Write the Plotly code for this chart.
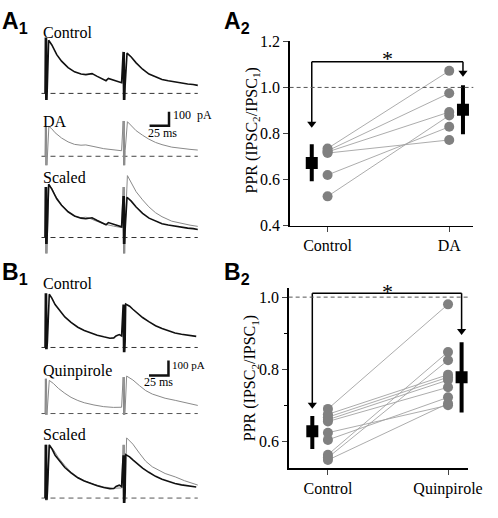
import numpy as np
import plotly.graph_objects as go

W, H = 498, 518

# ---------------- data ----------------
# Panel A1 / B1 current traces: time (ms after 1st stimulus), current (pA)
a_ctrl_t = [-0.5, 0, 0.6, 1.4, 2.0, 2.6, 4.2, 8.3, 14.6, 20.8, 29.2, 37.5, 45.8, 52, 56, 60, 66.7, 75, 78, 81, 85, 92, 98,
            100, 100.6, 101.4, 102, 102.6, 105, 110.4, 116.7, 125, 133.3, 141.7, 150, 158, 166.7, 175, 183, 190, 196]
a_ctrl_i = [0, 405, -47, 405, -47, 40, 385, 350, 280, 233, 186, 156, 140, 136, 140, 143, 123, 100, 92, 108, 100, 88, 77,
            300, -47, 300, -47, 60, 291, 263, 221, 175, 140, 117, 100, 91, 82, 77, 68, 64, 58]

a_da_t = [-0.5, 0, 0.6, 1.4, 2.0, 2.6, 4.5, 8, 12.5, 20.8, 29.2, 37.5, 45.8, 52, 56, 62.5, 75, 87.5, 98,
          100, 100.6, 101.4, 102, 102.6, 105.5, 110, 116.7, 125, 133, 141.7, 150, 162.5, 175, 186, 196]
a_da_i = [0, 215, -65, 215, -65, 30, 215, 200, 170, 132, 104, 86, 80, 82, 79, 70, 55, 46, 40,
          255, -65, 255, -65, 40, 250, 222, 185, 152, 124, 100, 84, 66, 56, 50, 45]

b_ctrl_t = [-0.5, 0, 0.6, 1.4, 2.0, 2.6, 5, 8.3, 12.5, 18.75, 25, 33, 41.7, 50, 58.3, 66.7, 75, 83, 88, 90.8, 95, 98,
            100, 100.6, 101.4, 102, 102.6, 103.3, 108.3, 112.5, 118.75, 125, 133, 141.7, 150, 158, 166.7, 175, 183, 194]
b_ctrl_i = [0, 361, -11, 361, -11, 40, 355, 329, 286, 243, 204, 168, 135, 114, 97, 82, 71, 62, 64, 77, 86, 77,
            286, -32, 286, -32, 40, 290, 275, 255, 228, 200, 172, 145, 126, 110, 97, 88, 80, 74]

b_qui_t = [-0.5, 0, 0.6, 1.4, 2.0, 2.6, 5, 10.4, 16.7, 25, 33, 41.7, 50, 62.5, 75, 87.5, 98,
           100, 100.6, 101.4, 102, 102.6, 104.5, 112.5, 121, 129, 137.5, 146, 154, 167, 179, 196]
b_qui_i = [0, 232, -9, 232, -9, 30, 221, 200, 168, 135, 108, 87, 72, 57, 46, 41, 42,
           243, -9, 243, -9, 30, 250, 224, 186, 153, 130, 114, 102, 88, 72, 54]

# Panel A2: paired-pulse ratios
a2_ctrl = [0.735, 0.725, 0.720, 0.715, 0.620, 0.527]
a2_da = [1.072, 0.975, 0.893, 0.772, 0.829, 0.878]
a2_mean = [0.672, 0.903]
a2_err_up = [0.081, 0.107]
a2_err_dn = [0.079, 0.106]

# Panel B2: paired-pulse ratios
b2_ctrl = [0.690, 0.675, 0.667, 0.660, 0.655, 0.624, 0.604, 0.563, 0.555, 0.548]
b2_qui = [0.980, 0.785, 0.778, 0.770, 0.750, 0.700, 0.722, 0.848, 0.825, 0.705]
b2_mean = [0.628, 0.778]
b2_err_up = [0.042, 0.097]
b2_err_dn = [0.049, 0.098]

a2_labels = ["Control", "DA"]
b2_labels = ["Control", "Quinpirole"]

SCALE_MS = 25
SCALE_PA = 100

# ---------------- helpers ----------------
SERIF = "Liberation Serif"
SANS = "Liberation Sans"


def px(x):
    return x / W


def py(y):
    return 1 - y / H


def ydom(top, bot):
    return [1 - bot / H, 1 - top / H]


T0_PX, MS_PX = 46.7, 0.8
TX0, TX1 = 37, 209
trace_xrange = [(TX0 - T0_PX) / MS_PX, (TX1 - T0_PX) / MS_PX]

panels = {
    "a_ctrl": dict(k=1, top=18, bot=100, base=88.3, s=0.143),
    "a_da": dict(k=2, top=100, bot=168, base=153.3, s=0.143),
    "a_sc": dict(k=3, top=172, bot=254, base=237.3, s=0.143),
    "b_ctrl": dict(k=4, top=283, bot=360, base=351.0, s=0.155),
    "b_qui": dict(k=5, top=360, bot=428, base=419.3, s=0.155),
    "b_sc": dict(k=6, top=430, bot=518, base=506.7, s=0.155),
}

fig = go.Figure()
layout = dict(width=W, height=H, margin=dict(l=0, r=0, t=0, b=0),
              paper_bgcolor="white", plot_bgcolor="white", showlegend=False)


def axn(k):
    return ("x" if k == 1 else f"x{k}"), ("y" if k == 1 else f"y{k}")


for name, p in panels.items():
    k = p["k"]
    xs = "xaxis" if k == 1 else f"xaxis{k}"
    ys = "yaxis" if k == 1 else f"yaxis{k}"
    xa, ya = axn(k)
    layout[xs] = dict(domain=[px(TX0), px(TX1)], range=trace_xrange, visible=False, anchor=ya)
    layout[ys] = dict(domain=ydom(p["top"], p["bot"]),
                      range=[(p["base"] - p["bot"]) / p["s"], (p["base"] - p["top"]) / p["s"]],
                      visible=False, anchor=xa)

BLACK = "#111111"
GREY = "#8a8a8a"


def add_line(t, v, k, color, width, dash=None):
    xa, ya = axn(k)
    fig.add_trace(go.Scatter(x=t, y=v, mode="lines", xaxis=xa, yaxis=ya,
                             line=dict(color=color, width=width, dash=dash), hoverinfo="skip"))


def baseline(k, color):
    add_line([-5, 196], [0, 0], k, color, 1, dash="5px,4px")


def scaled(t, v, ref_t, ref_v):
    t = np.asarray(t, float)
    v = np.asarray(v, float)
    rt = np.asarray(ref_t, float)
    rv = np.asarray(ref_v, float)
    win = (t > 3.5) & (t < 20)
    rwin = (rt > 3.5) & (rt < 20)
    return v * (rv[rwin].max() / v[win].max())


def cap_artifacts(t, v, cap):
    t = np.asarray(t, float)
    v = np.array(v, float)
    art = ((t > -1) & (t < 3.0)) | ((t > 99.5) & (t < 103.0))
    v[art] = np.minimum(v[art], cap)
    return v


# A1
baseline(1, "#333")
add_line(a_ctrl_t, a_ctrl_i, 1, BLACK, 1.6)
baseline(2, "#444")
add_line(a_da_t, a_da_i, 2, GREY, 1.0)
baseline(3, "#333")
a_sc_grey = cap_artifacts(a_da_t, scaled(a_da_t, a_da_i, a_ctrl_t, a_ctrl_i), 365)
add_line(a_da_t, a_sc_grey, 3, GREY, 1.0)
add_line(a_ctrl_t, cap_artifacts(a_ctrl_t, a_ctrl_i, 365), 3, BLACK, 1.6)

# B1
baseline(4, "#333")
add_line(b_ctrl_t, b_ctrl_i, 4, BLACK, 1.6)
baseline(5, "#555")
add_line(b_qui_t, b_qui_i, 5, GREY, 1.0)
baseline(6, "#555")
b_sc_grey = cap_artifacts(b_qui_t, scaled(b_qui_t, b_qui_i, b_ctrl_t, b_ctrl_i), 355)
add_line(b_qui_t, b_sc_grey, 6, GREY, 1.0)
add_line(b_ctrl_t, cap_artifacts(b_ctrl_t, b_ctrl_i, 355), 6, BLACK, 1.6)

# scale bars (in data units of the drug panels)
a_bar_t, a_bar_i = 159, 221
add_line([a_bar_t - SCALE_MS, a_bar_t, a_bar_t], [a_bar_i, a_bar_i, a_bar_i + SCALE_PA], 2, BLACK, 2.5)
b_bar_t, b_bar_i = 158.3, 253.5
add_line([b_bar_t - SCALE_MS, b_bar_t, b_bar_t], [b_bar_i, b_bar_i, b_bar_i + SCALE_PA], 5, BLACK, 2.5)

annotations = []


def text(x, y, s, size, font=SERIF, xanchor="left", color="black", angle=0):
    annotations.append(dict(x=px(x), y=py(y), xref="paper", yref="paper", text=s, showarrow=False,
                            xanchor=xanchor, yanchor="middle", textangle=angle,
                            font=dict(family=font, size=size, color=color)))


text(42, 25, "Control", 16)
text(42, 117, "DA", 16)
text(42, 175, "Scaled", 16)
text(42, 285, "Control", 16)
text(42, 375, "Quinpirole", 16)
text(42, 441, "Scaled", 16)
text(176, 111, "100  pA", 12)
text(167, 129, "25 ms", 12, xanchor="center")
text(175, 369, "100 pA", 11)
text(163, 387, "25 ms", 12, xanchor="center")

text(0, 15, "<b>A<sub>1</sub></b>", 23, font=SANS)
text(228, 15, "<b>A<sub>2</sub></b>", 23, font=SANS)
text(0, 275, "<b>B<sub>1</sub></b>", 23, font=SANS)
text(228, 275, "<b>B<sub>2</sub></b>", 23, font=SANS)

# ---------------- PPR panels ----------------
ppr = [
    dict(k=7, xdom=(298, 487), xr=(0.688, 2.198), ydom=(34.5, 225), yr=(0.4, 1.2),
         ctrl=a2_ctrl, drug=a2_da, mean=a2_mean, eu=a2_err_up, ed=a2_err_dn, labels=a2_labels,
         ticks=[0.4, 0.6, 0.8, 1.0, 1.2], minor=[], bracket=1.111, tips=(0.825, 1.047),
         star=(399, 52), title=(260, 127)),
    dict(k=8, xdom=(297, 482), xr=(0.673, 2.17), ydom=(290, 476), yr=(0.525, 1.024),
         ctrl=b2_ctrl, drug=b2_qui, mean=b2_mean, eu=b2_err_up, ed=b2_err_dn, labels=b2_labels,
         ticks=[0.6, 0.8, 1.0], minor=[0.7, 0.9], bracket=1.011, tips=(0.691, 0.895),
         star=(399, 293), title=(258, 383)),
]
MEAN_X = [0.87, 2.113]

shapes = []
for p in ppr:
    k = p["k"]
    xa, ya = axn(k)
    layout[f"xaxis{k}"] = dict(domain=[px(p["xdom"][0]), px(p["xdom"][1])], range=list(p["xr"]),
                               anchor=ya, tickmode="array", tickvals=[1, 2], ticktext=p["labels"],
                               ticks="outside", ticklen=5, tickwidth=1, showline=True, linewidth=1.5,
                               linecolor="black", showgrid=False, zeroline=False,
                               tickfont=dict(family=SERIF, size=16, color="black"))
    layout[f"yaxis{k}"] = dict(domain=ydom(p["ydom"][0], p["ydom"][1]), range=list(p["yr"]),
                               anchor=xa, tickmode="array", tickvals=p["ticks"],
                               ticktext=[f"{v:.1f}" for v in p["ticks"]],
                               ticks="outside", ticklen=5, tickwidth=1, showline=True, linewidth=1.5,
                               linecolor="black", showgrid=False, zeroline=False,
                               tickfont=dict(family=SERIF, size=16, color="black"),
                               minor=dict(tickmode="array", tickvals=p["minor"], ticks="outside",
                                          ticklen=3, tickwidth=1, tickcolor="black", showgrid=False))
    # dashed line at PPR = 1
    shapes.append(dict(type="line", xref=f"{xa} domain", yref=ya, x0=0, x1=1, y0=1.0, y1=1.0,
                       line=dict(color="#555", width=1, dash="4px,3px")))
    # paired lines
    lx, ly = [], []
    for c, d in zip(p["ctrl"], p["drug"]):
        lx += [1, 2, None]
        ly += [c, d, None]
    fig.add_trace(go.Scatter(x=lx, y=ly, mode="lines", xaxis=xa, yaxis=ya,
                             line=dict(color="#a3a3a3", width=0.9), hoverinfo="skip"))
    fig.add_trace(go.Scatter(x=[1] * len(p["ctrl"]) + [2] * len(p["drug"]), y=p["ctrl"] + p["drug"],
                             mode="markers", xaxis=xa, yaxis=ya,
                             marker=dict(color="#808080", size=10, line=dict(width=0)), hoverinfo="skip"))
    # means +/- error
    fig.add_trace(go.Scatter(x=MEAN_X, y=p["mean"], mode="markers", xaxis=xa, yaxis=ya,
                             marker=dict(symbol="square", color="black", size=12),
                             error_y=dict(type="data", symmetric=False, array=p["eu"], arrayminus=p["ed"],
                                          thickness=4, width=0, color="black"), hoverinfo="skip"))
    # significance bracket with arrows
    ppu = (p["ydom"][1] - p["ydom"][0]) / (p["yr"][1] - p["yr"][0])
    off = 4.0 / ppu
    b = p["bracket"]
    tc, td = p["tips"]
    fig.add_trace(go.Scatter(x=[MEAN_X[0], MEAN_X[0], None, MEAN_X[0], MEAN_X[1], None, MEAN_X[1], MEAN_X[1]],
                             y=[b, tc + off, None, b, b, None, b, td + off], mode="lines",
                             xaxis=xa, yaxis=ya, line=dict(color="black", width=1.5), hoverinfo="skip"))
    fig.add_trace(go.Scatter(x=MEAN_X, y=[tc + off, td + off], mode="markers", xaxis=xa, yaxis=ya,
                             marker=dict(symbol="triangle-down", size=8, color="black"),
                             cliponaxis=False, hoverinfo="skip"))
    text(p["star"][0], p["star"][1], "*", 22, xanchor="center")
    text(p["title"][0], p["title"][1], "PPR (IPSC<sub>2</sub>/IPSC<sub>1</sub>)", 16,
         xanchor="center", angle=-90)

layout["annotations"] = annotations
layout["shapes"] = shapes
fig.update_layout(**layout)
fig.write_html("out.html", config={"displayModeBar": False, "staticPlot": True},
               post_script="document.body.style.margin='0';")
